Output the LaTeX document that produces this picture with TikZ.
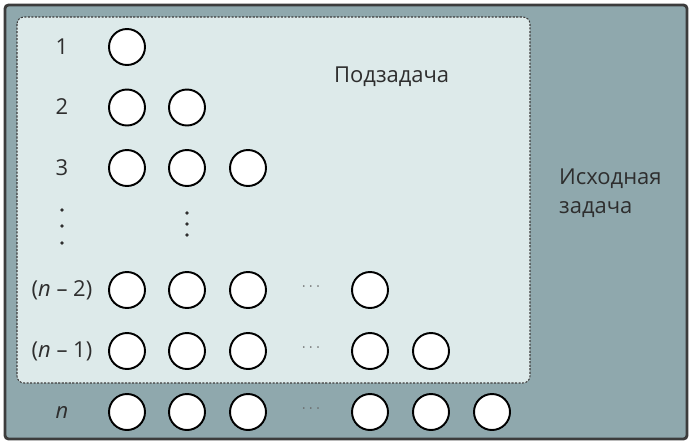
\documentclass[tikz,border=0pt]{standalone}
\usepackage{fontspec}
\setmainfont{Open Sans}
\usepackage{xcolor}
\definecolor{outerfill}{HTML}{8FA8AD}
\definecolor{innerfill}{HTML}{DDEAEA}
\definecolor{framegray}{HTML}{3C3C3C}
\definecolor{textgray}{HTML}{2E2E2E}

\tikzset{
  ball/.style={circle,draw=black,line width=1.1pt,fill=white,minimum size=0.72cm,inner sep=0pt},
  rowlabel/.style={text=textgray,font=\fontsize{12.5}{16.5}\selectfont},
  hdots/.style={text=black!60,font=\fontsize{9}{10}\selectfont},
  vdot/.style={circle,fill=textgray,inner sep=0pt,minimum size=2.2pt}
}

\begin{document}
\begin{tikzpicture}[x=0.02cm,y=-0.02cm]
  \useasboundingbox (0,0) rectangle (692,443);
  % frames
  \draw[framegray,line width=1.6pt,fill=outerfill,rounded corners=2pt] (5,5) rectangle (687,439);
  \draw[framegray,dashed,dash pattern=on 1.2pt off 0.8pt,line width=0.6pt,fill=innerfill,rounded corners=4pt] (17,17) rectangle (530,383);
  \node[rowlabel,anchor=west] (sub) at (328,77) {Подзадача};
  \node[rowlabel,anchor=west,align=left] (orig) at (553,193) {Исходная\\задача};
  % row labels
  \foreach \y/\label [count=\i] in {47/1, 107/2, 168/3, 290/(\textit{n} – 2), 351/(\textit{n} – 1), 412/\textit{n}} {
    \node[rowlabel] (lab\i) at (62,\y) {\label};
  }
  % vertical dots
  \foreach \y [count=\i] in {210,226,243} {
    \node[vdot] (lv\i) at (62,\y) {};
  }
  \foreach \y [count=\i] in {213,224,235} {
    \node[vdot] (cv\i) at (187,\y) {};
  }
  % triangle rows
  \foreach \r in {1,2,3} {
    \foreach \c/\x in {1/127, 2/187, 3/248} {
      \ifnum\c>\r\else
        \node[ball] (b\r-\c) at (\x,{47+(\r-1)*60.5}) {};
      \fi
    }
  }
  % last three rows
  \foreach \r/\y/\k in {4/290/1, 5/351/2, 6/412/3} {
    \foreach \c/\x in {1/127, 2/187, 3/248} {
      \node[ball] (b\r-\c) at (\x,\y) {};
    }
    \node[hdots] (d\r) at (311,\y-3) {$\cdots$};
    \foreach \c/\x in {4/370, 5/431, 6/492} {
      \ifnum\c>\numexpr\k+3\relax\else
        \node[ball] (b\r-\c) at (\x,\y) {};
      \fi
    }
  }
\end{tikzpicture}
\end{document}
